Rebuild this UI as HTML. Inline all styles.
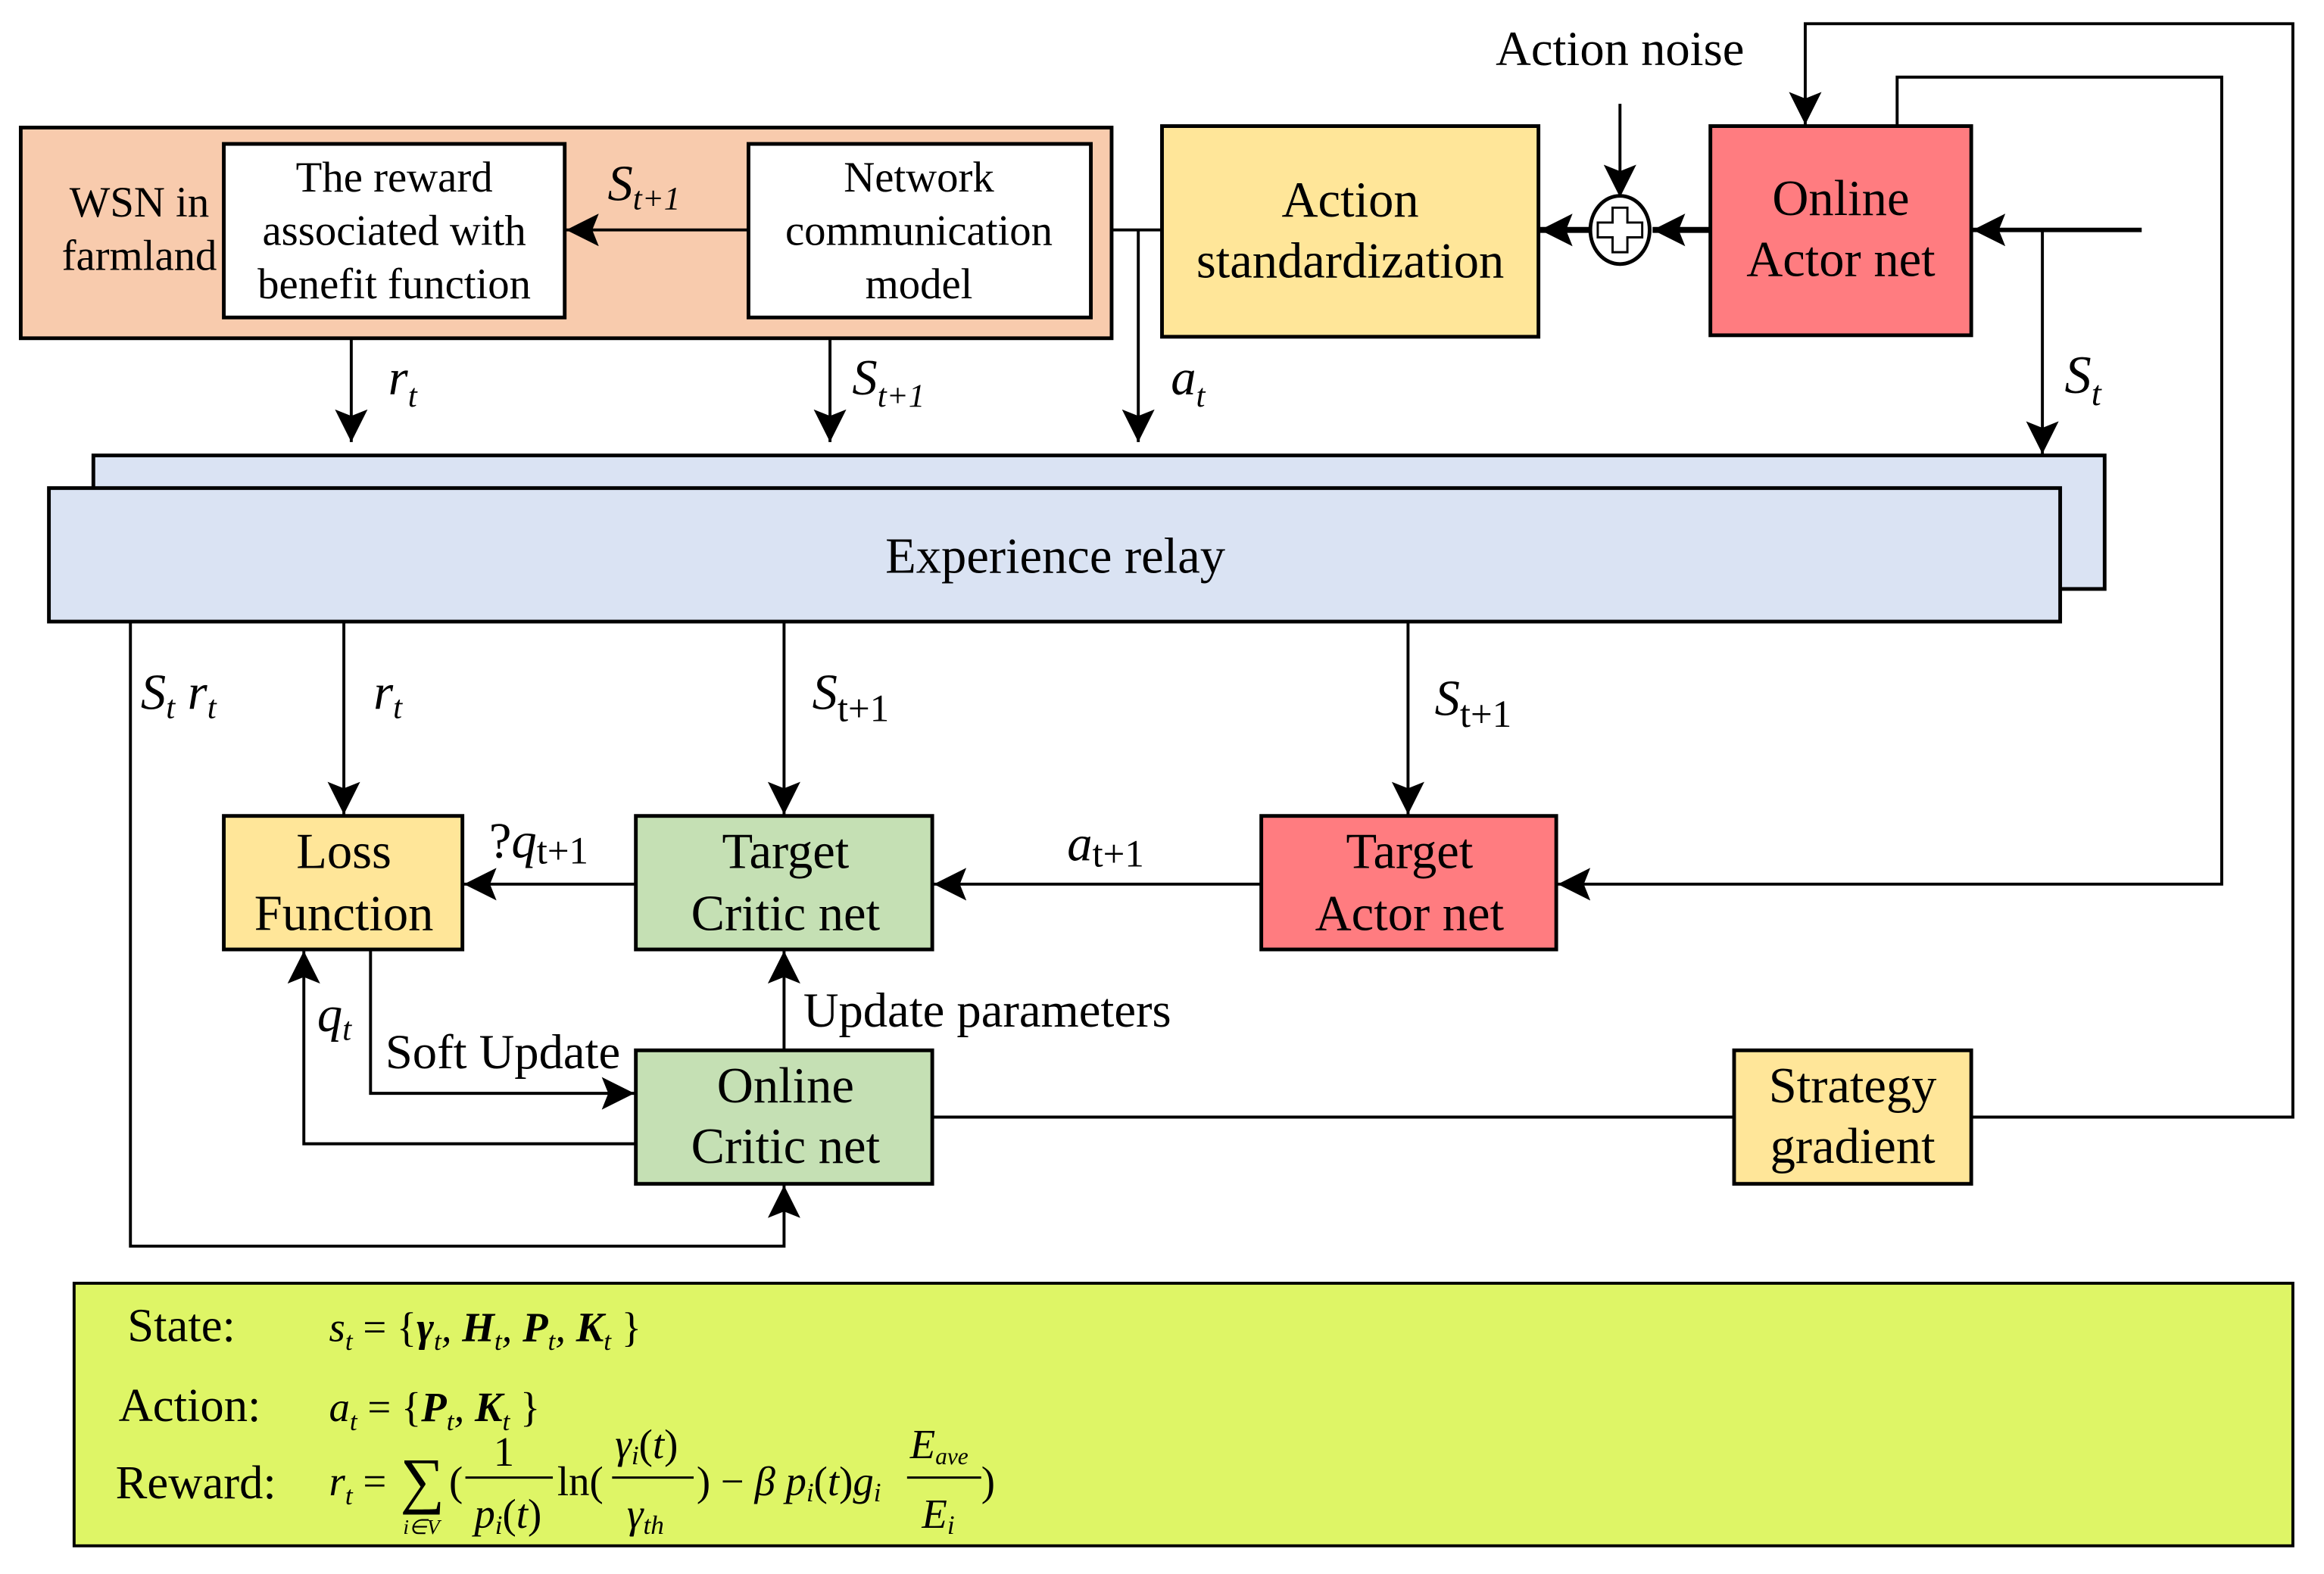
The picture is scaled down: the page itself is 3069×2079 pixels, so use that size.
<!DOCTYPE html>
<html><head><meta charset="utf-8"><style>html,body{margin:0;padding:0;background:#fff}svg{display:block}</style></head>
<body>
<svg width="3069" height="2079" viewBox="0 0 1568 1061" preserveAspectRatio="none" xmlns="http://www.w3.org/2000/svg" font-family="Liberation Serif, serif">
<defs>
<marker id="b" viewBox="0 0 10 10" refX="10" refY="5" markerWidth="22" markerHeight="22" markerUnits="userSpaceOnUse" orient="auto"><path d="M0,0 L10,5 L0,10 L2,5 Z" fill="#000"/></marker>
</defs>
<g stroke="#000" stroke-width="2.5">
<rect x="14" y="86" width="736" height="142" fill="#f8cbad"/>
<rect x="151" y="97" width="230" height="117" fill="#fff"/>
<rect x="505" y="97" width="231" height="117" fill="#fff"/>
<rect x="784" y="85" width="254" height="142" fill="#ffe699"/>
<rect x="1154" y="85" width="176" height="141" fill="#ff7c80"/>
<rect x="63" y="307" width="1357" height="90" fill="#dae3f3"/>
<rect x="33" y="329" width="1357" height="90" fill="#dae3f3"/>
<rect x="151" y="550" width="161" height="90" fill="#ffe699"/>
<rect x="429" y="550" width="200" height="90" fill="#c5e0b4"/>
<rect x="851" y="550" width="199" height="90" fill="#ff7c80"/>
<rect x="429" y="708" width="200" height="90" fill="#c5e0b4"/>
<rect x="1170" y="708" width="160" height="90" fill="#ffe699"/>
<rect x="50" y="865" width="1497" height="177" fill="#def566" stroke-width="2"/>
</g>
<g stroke="#000" stroke-width="2" fill="none">
<polyline points="1330,753 1547,753 1547,16 1218,16 1218,84" marker-end="url(#b)"/>
<polyline points="1280,85 1280,52 1499,52 1499,596 1051,596" marker-end="url(#b)"/>
<line x1="1445" y1="155" x2="1331" y2="155" marker-end="url(#b)" stroke-width="3"/>
<line x1="1378" y1="155" x2="1378" y2="306" marker-end="url(#b)"/>
<line x1="1093" y1="70" x2="1093" y2="133" marker-end="url(#b)"/>
<line x1="1154" y1="155" x2="1115" y2="155" marker-end="url(#b)" stroke-width="4"/>
<line x1="1072" y1="155" x2="1039" y2="155" marker-end="url(#b)" stroke-width="4"/>
<line x1="750" y1="155" x2="784" y2="155"/>
<line x1="768" y1="155" x2="768" y2="298" marker-end="url(#b)"/>
<line x1="505" y1="155" x2="382" y2="155" marker-end="url(#b)"/>
<line x1="237" y1="228" x2="237" y2="298" marker-end="url(#b)"/>
<line x1="560" y1="228" x2="560" y2="298" marker-end="url(#b)"/>
<line x1="232" y1="419" x2="232" y2="549" marker-end="url(#b)"/>
<line x1="529" y1="419" x2="529" y2="549" marker-end="url(#b)"/>
<line x1="950" y1="419" x2="950" y2="549" marker-end="url(#b)"/>
<polyline points="88,419 88,840 529,840 529,799" marker-end="url(#b)"/>
<line x1="429" y1="596" x2="313" y2="596" marker-end="url(#b)"/>
<line x1="851" y1="596" x2="630" y2="596" marker-end="url(#b)"/>
<line x1="529" y1="708" x2="529" y2="641" marker-end="url(#b)"/>
<polyline points="250,640 250,737 428,737" marker-end="url(#b)"/>
<polyline points="429,771 205,771 205,641" marker-end="url(#b)"/>
<line x1="629" y1="753" x2="1170" y2="753"/>
</g>
<ellipse cx="1093" cy="155" rx="20" ry="23" fill="#fff" stroke="#000" stroke-width="2.5"/>
<path d="M1088,140 h10 v10 h10 v10 h-10 v10 h-10 v-10 h-10 v-10 h10 z" fill="#fff" stroke="#000" stroke-width="1.5"/>
<g font-size="34" text-anchor="middle" fill="#000">
<text x="1093" y="44" font-size="33">Action noise</text>
<text x="94" y="146" font-size="29">WSN in</text>
<text x="94" y="182" font-size="29">farmland</text>
<text x="266" y="129" font-size="29">The reward</text>
<text x="266" y="165" font-size="29">associated with</text>
<text x="266" y="201" font-size="29">benefit function</text>
<text x="620" y="129" font-size="29">Network</text>
<text x="620" y="165" font-size="29">communication</text>
<text x="620" y="201" font-size="29">model</text>
<text x="911" y="146">Action</text>
<text x="911" y="187">standardization</text>
<text x="1242" y="145">Online</text>
<text x="1242" y="186">Actor net</text>
<text x="712" y="386">Experience relay</text>
<text x="232" y="585">Loss</text>
<text x="232" y="627">Function</text>
<text x="530" y="585">Target</text>
<text x="530" y="627">Critic net</text>
<text x="951" y="585">Target</text>
<text x="951" y="627">Actor net</text>
<text x="530" y="743">Online</text>
<text x="530" y="784">Critic net</text>
<text x="1250" y="743">Strategy</text>
<text x="1250" y="784">gradient</text>
</g>
<g font-size="28" fill="#000" font-style="italic">
<text x="410" y="135" font-size="34">S<tspan font-size="22" dy="6">t+1</tspan></text>
<text x="262" y="266" font-size="34">r<tspan font-size="22" dy="8">t</tspan></text>
<text x="575" y="266" font-size="34">S<tspan font-size="22" dy="8">t+1</tspan></text>
<text x="790" y="266" font-size="34">a<tspan font-size="22" dy="8">t</tspan></text>
<text x="1393" y="265" font-size="36">S<tspan font-size="24" dy="8">t</tspan></text>
<text x="95" y="478" font-size="34">S<tspan font-size="22" dy="6">t</tspan><tspan dy="-6"> r</tspan><tspan font-size="22" dy="6">t</tspan></text>
<text x="252" y="478" font-size="34">r<tspan font-size="22" dy="6">t</tspan></text>
<text x="548" y="478" font-size="34">S<tspan font-size="26" dy="8" font-style="normal">t+1</tspan></text>
<text x="968" y="482" font-size="34">S<tspan font-size="26" dy="8" font-style="normal">t+1</tspan></text>
<text x="330" y="578" font-size="34"><tspan font-style="normal">?</tspan>q<tspan font-size="26" dy="4" font-style="normal">t+1</tspan></text>
<text x="720" y="580" font-size="34">a<tspan font-size="26" dy="4" font-style="normal">t+1</tspan></text>
<text x="214" y="695" font-size="34">q<tspan font-size="22" dy="6">t</tspan></text>
</g>
<g font-size="33" fill="#000">
<text x="542" y="692">Update parameters</text>
<text x="260" y="720">Soft Update</text>
<text x="86" y="904" font-size="32">State:</text>
<text x="80" y="958" font-size="32">Action:</text>
<text x="78" y="1010" font-size="32">Reward:</text>
</g>
<g font-size="28" fill="#000" font-style="italic">
<text x="222" y="904">s<tspan font-size="18" dy="6">t</tspan><tspan dy="-6" font-style="normal"> = {</tspan><tspan font-weight="bold">γ</tspan><tspan font-size="18" dy="6">t</tspan><tspan dy="-6">, </tspan><tspan font-weight="bold">H</tspan><tspan font-size="18" dy="6">t</tspan><tspan dy="-6">, </tspan><tspan font-weight="bold">P</tspan><tspan font-size="18" dy="6">t</tspan><tspan dy="-6">, </tspan><tspan font-weight="bold">K</tspan><tspan font-size="18" dy="6">t</tspan><tspan dy="-6" font-style="normal"> }</tspan></text>
<text x="222" y="958">a<tspan font-size="18" dy="6">t</tspan><tspan dy="-6" font-style="normal"> = {</tspan><tspan font-weight="bold">P</tspan><tspan font-size="18" dy="6">t</tspan><tspan dy="-6">, </tspan><tspan font-weight="bold">K</tspan><tspan font-size="18" dy="6">t</tspan><tspan dy="-6" font-style="normal"> }</tspan></text>
<text x="222" y="1008">r<tspan font-size="18" dy="6">t</tspan><tspan dy="-6" font-style="normal"> =</tspan></text>
<text x="270" y="1012" font-size="42" font-style="normal">∑</text>
<text x="272" y="1034" font-size="14">i∈V</text>
<text x="303" y="1008" font-style="normal">(</text>
<text x="340" y="988" font-style="normal" text-anchor="middle">1</text>
<line x1="314" y1="996" x2="373" y2="996" stroke="#000" stroke-width="1.5"/>
<text x="320" y="1030">p<tspan font-size="18" dy="4">i</tspan><tspan dy="-4" font-style="normal">(</tspan>t<tspan font-style="normal">)</tspan></text>
<text x="376" y="1008" font-style="normal">ln(</text>
<text x="415" y="983">γ<tspan font-size="18" dy="4">i</tspan><tspan dy="-4" font-style="normal">(</tspan>t<tspan font-style="normal">)</tspan></text>
<line x1="413" y1="996" x2="468" y2="996" stroke="#000" stroke-width="1.5"/>
<text x="423" y="1030">γ<tspan font-size="18" dy="4">th</tspan></text>
<text x="470" y="1008"><tspan font-style="normal">) − </tspan>β p<tspan font-size="18" dy="4">i</tspan><tspan dy="-4" font-style="normal">(</tspan>t<tspan font-style="normal">)</tspan>g<tspan font-size="18" dy="4">i</tspan></text>
<text x="614" y="983">E<tspan font-size="16" dy="4">ave</tspan></text>
<line x1="612" y1="996" x2="662" y2="996" stroke="#000" stroke-width="1.5"/>
<text x="622" y="1030">E<tspan font-size="18" dy="4">i</tspan></text>
<text x="662" y="1008" font-style="normal">)</text>
</g>
</svg>
</body></html>
